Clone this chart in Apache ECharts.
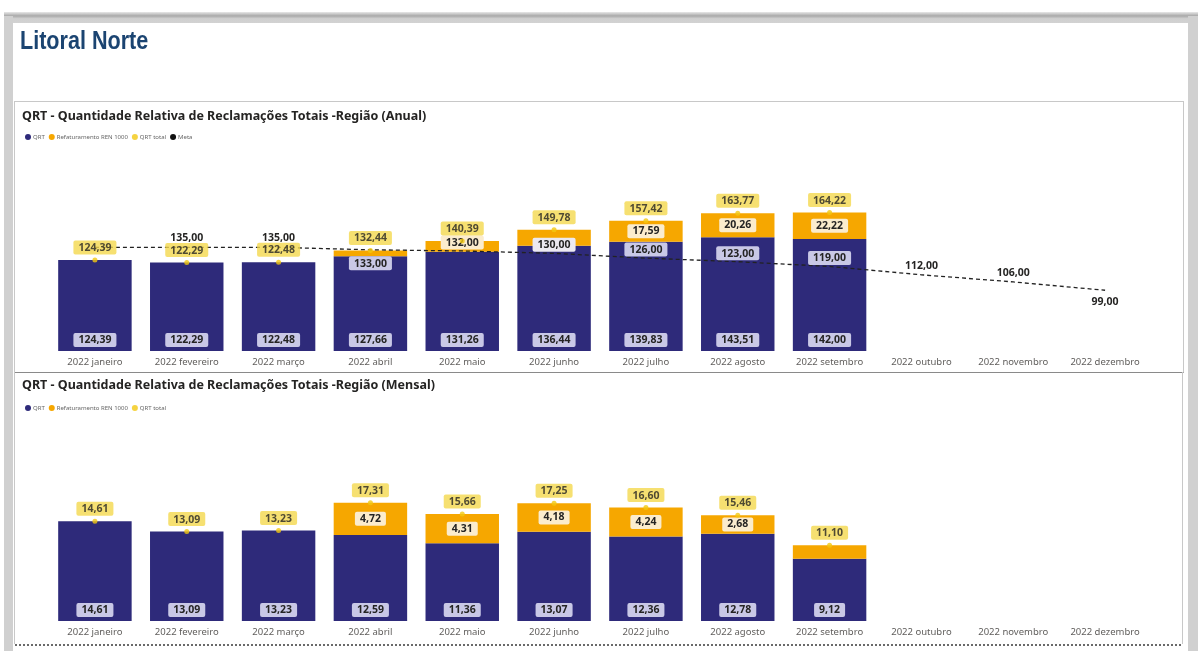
<!DOCTYPE html>
<html>
<head>
<meta charset="utf-8">
<script src="https://cdn.jsdelivr.net/npm/echarts@6/dist/echarts.min.js"></script>
<style>
  html, body { margin: 0; padding: 0; background: #ffffff; width: 1198px; height: 651px; overflow: hidden; }
  .shadow-top { position: absolute; left: 4px; top: 12px; width: 1194px; height: 11px;
    background: linear-gradient(#e8e8e8, #a9a9a9 35%, #cfcfcf 60%, #d2d2d2); }
  .strip-left { position: absolute; left: 4px; top: 16px; width: 9px; height: 635px; background: #d0d0d0; }
  .strip-right { position: absolute; left: 1188px; top: 16px; width: 10px; height: 635px; background: #d0d0d0; }
  .panel { position: absolute; left: 13px; top: 23px; width: 1175px; height: 628px; background: #ffffff; }
  .box-top { position: absolute; left: 14px; top: 101px; width: 1168px; height: 270px;
    border: 1px solid #c8c8c8; border-bottom: 1px solid #8a8a8a; }
  .dots { position: absolute; left: 15px; top: 644px; width: 1166px; height: 0; border-top: 2px dotted #6a6a6a; }
  .left-bottom { position: absolute; left: 14px; top: 372px; width: 0; height: 272px; border-left: 1px solid #c8c8c8; }
  .right-bottom { position: absolute; left: 1182px; top: 372px; width: 0; height: 272px; border-left: 1px solid #c8c8c8; }
  #chart { position: absolute; left: 0; top: 0; width: 1198px; height: 651px; }
</style>
</head>
<body>
<div class="shadow-top"></div>
<div class="strip-left"></div>
<div class="strip-right"></div>
<div class="panel"></div>
<div class="box-top"></div>
<div class="left-bottom"></div>
<div class="right-bottom"></div>
<div class="dots"></div>
<div id="chart"></div>
<script>
// ---------- data ----------
const categories = ['2022 janeiro', '2022 fevereiro', '2022 março', '2022 abril', '2022 maio', '2022 junho',
  '2022 julho', '2022 agosto', '2022 setembro', '2022 outubro', '2022 novembro', '2022 dezembro'];

const anualQRT   = [124.39, 122.29, 122.48, 127.66, 131.26, 136.44, 139.83, 143.51, 142.00, null, null, null];
const anualRef   = [0, 0, 0, 4.78, 9.13, 13.34, 17.59, 20.26, 22.22, null, null, null];
const anualTotal = [124.39, 122.29, 122.48, 132.44, 140.39, 149.78, 157.42, 163.77, 164.22, null, null, null];
const anualMeta  = [135.00, 135.00, 135.00, 133.00, 132.00, 130.00, 126.00, 123.00, 119.00, 112.00, 106.00, 99.00];

const mensalQRT   = [14.61, 13.09, 13.23, 12.59, 11.36, 13.07, 12.36, 12.78, 9.12, null, null, null];
const mensalRef   = [0, 0, 0, 4.72, 4.31, 4.18, 4.24, 2.68, 1.98, null, null, null];
const mensalTotal = [14.61, 13.09, 13.23, 17.31, 15.66, 17.25, 16.60, 15.46, 11.10, null, null, null];

// label placement for the Meta line (how the reference shows each label)
const metaLabelPlace = ['none', 'top', 'top', 'bottom', 'top', 'top', 'top', 'top', 'top', 'top', 'top', 'bottom'];
const metaLabelBox   = [null, null, null, '#c9c8e6', '#fbeccd', '#ece9f0', '#c9c8e6', '#c9c8e6', '#c9c8e6', null, null, null];

// ---------- styling ----------
const C_QRT = '#2e2a7a';
const C_REF = '#f6a700';
const C_TOT = '#f2c811';
const TXT = '#252423';
const FONT = '"Noto Sans", "Open Sans", sans-serif';
const fmt = v => (v == null ? '' : v.toFixed(2).replace('.', ','));

const lblBox = (bg) => ({
  formatter: p => fmt(p.value),
  color: TXT, fontFamily: FONT, fontWeight: 'bold', fontSize: 10.5,
  backgroundColor: bg, padding: [2, 5, 1, 5], borderRadius: 2
});

function refData(values, pxPerUnit) {
  return values.map(v => ({
    value: v,
    label: { show: v != null && v * pxPerUnit > 17 }
  }));
}

const grids = [
  { left: 49, right: 47, top: 170, bottom: 300 },
  { left: 49, right: 47, top: 416, bottom: 30 }
];
const yRanges = [{ min: 48, max: 200 }, { min: 0, max: 30 }];
const pxPerUnit = [181 / 152, 205 / 30];

const legendText = { fontSize: 6, color: '#666', padding: [0, 0, 0, -3] };

const option = {
  animation: false,
  textStyle: { fontFamily: FONT },
  graphic: [
    { type: 'text', x: 20, y: 29, scaleX: 0.83, scaleY: 1,
      style: { text: 'Litoral Norte', font: 'bold 26px "Liberation Sans", Arial, sans-serif', fill: '#1b4471' } }
  ],
  title: [
    { text: 'QRT - Quantidade Relativa de Reclamações Totais -Região (Anual)', left: 17, top: 105,
      textStyle: { fontFamily: FONT, fontSize: 12.5, fontWeight: 'bold', color: '#252423' } },
    { text: 'QRT - Quantidade Relativa de Reclamações Totais -Região (Mensal)', left: 17, top: 374,
      textStyle: { fontFamily: FONT, fontSize: 12.5, fontWeight: 'bold', color: '#252423' } }
  ],
  legend: [
    { left: 20, top: 129, icon: 'circle', itemWidth: 6, itemHeight: 6, itemGap: 4, textStyle: legendText,
      data: ['QRT', 'Refaturamento REN 1000', 'QRT total', { name: 'Meta', itemStyle: { color: '#111' } }] },
    { left: 20, top: 400, icon: 'circle', itemWidth: 6, itemHeight: 6, itemGap: 4, textStyle: legendText,
      data: ['QRT', 'Refaturamento REN 1000', 'QRT total'] }
  ],
  grid: grids,
  xAxis: grids.map((g, i) => ({
    type: 'category', gridIndex: i, data: categories,
    axisLine: { show: false }, axisTick: { show: false },
    axisLabel: { color: '#605e5c', fontSize: 9.5, margin: 6, interval: 0, fontFamily: FONT }
  })),
  yAxis: grids.map((g, i) => ({
    type: 'value', gridIndex: i, show: false, min: yRanges[i].min, max: yRanges[i].max,
    splitLine: { show: false }
  })),
  series: [
    // ---- Anual ----
    { name: 'QRT', type: 'bar', xAxisIndex: 0, yAxisIndex: 0, stack: 'a', data: anualQRT,
      barCategoryGap: '20%', itemStyle: { color: C_QRT },
      label: Object.assign({ show: true, position: 'insideBottom', distance: 4 }, lblBox('#c9c8e6')) },
    { name: 'Refaturamento REN 1000', type: 'bar', xAxisIndex: 0, yAxisIndex: 0, stack: 'a',
      data: refData(anualRef, pxPerUnit[0]), itemStyle: { color: C_REF },
      label: Object.assign({ position: 'inside' }, lblBox('#fbeccd')) },
    { name: 'Meta', type: 'line', xAxisIndex: 0, yAxisIndex: 0, data: anualMeta.map((v, i) => ({
        value: v,
        label: metaLabelPlace[i] === 'none' ? { show: false } : {
          show: true, position: metaLabelPlace[i],
          distance: metaLabelPlace[i] === 'bottom' ? 6 : (metaLabelBox[i] ? 1 : 3),
          backgroundColor: metaLabelBox[i] || 'transparent',
          padding: metaLabelBox[i] ? [2, 5, 1, 5] : 0
        }
      })),
      symbol: 'circle', symbolSize: 1, showSymbol: true, z: 5,
      itemStyle: { color: 'rgba(0,0,0,0)' },
      lineStyle: { color: '#222', width: 1.3, type: [4, 3] },
      label: { show: true, formatter: p => fmt(p.value), color: TXT, fontWeight: 'bold', fontSize: 10.5, fontFamily: FONT, borderRadius: 2 } },
    { name: 'QRT total', type: 'scatter', xAxisIndex: 0, yAxisIndex: 0, data: anualTotal, z: 6,
      symbol: 'circle', symbolSize: 5, itemStyle: { color: C_TOT },
      label: Object.assign({ show: true, position: 'top', distance: 3 }, lblBox('#f4d84e')) },

    // ---- Mensal ----
    { name: 'QRT', type: 'bar', xAxisIndex: 1, yAxisIndex: 1, stack: 'b', data: mensalQRT,
      barCategoryGap: '20%', itemStyle: { color: C_QRT },
      label: Object.assign({ show: true, position: 'insideBottom', distance: 4 }, lblBox('#c9c8e6')) },
    { name: 'Refaturamento REN 1000', type: 'bar', xAxisIndex: 1, yAxisIndex: 1, stack: 'b',
      data: refData(mensalRef, pxPerUnit[1]), itemStyle: { color: C_REF },
      label: Object.assign({ position: 'inside' }, lblBox('#fbeccd')) },
    { name: 'QRT total', type: 'scatter', xAxisIndex: 1, yAxisIndex: 1, data: mensalTotal, z: 6,
      symbol: 'circle', symbolSize: 5, itemStyle: { color: C_TOT },
      label: Object.assign({ show: true, position: 'top', distance: 3 }, lblBox('#f4d84e')) }
  ]
};

const chart = echarts.init(document.getElementById('chart'), null, { renderer: 'canvas' });
chart.setOption(option);
</script>
</body>
</html>
